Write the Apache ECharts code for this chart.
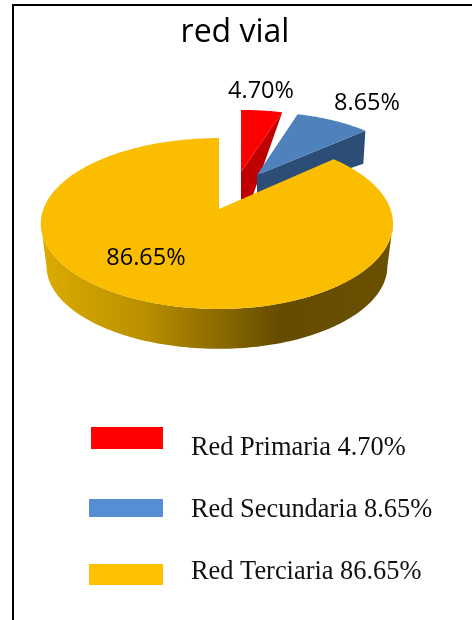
<!DOCTYPE html>
<html>
<head>
<meta charset="utf-8">
<style>html,body{margin:0;padding:0;background:#fff}#c{width:472px;height:620px}</style>
<script src="https://cdn.jsdelivr.net/npm/echarts@6/dist/echarts.min.js"></script>
</head>
<body>
<div id="c"></div>
<script>
var chartTitle = 'red vial';
var categories = ['Red Primaria', 'Red Secundaria', 'Red Terciaria'];
var values = [4.70, 8.65, 86.65];
var valueLabels = ['4.70%', '8.65%', '86.65%'];

var topColors = ['#FF0000', '#4F81BD', '#FBBD00'];
var wallColors = ['#C00000', '#2C4D75', '#6B5000'];
var swatchColors = ['#FF0000', '#558ED5', '#FFC000'];

// perspective model of the disc
var R = 173.5, RY = 83, P = 0.17;
// per-slice placement: apex, radial scale
var sliceStyle = [
  {ax: 241, ay: 172, sx: 0.95, sxL: 0.95, sy: 0.875, wall: [0, 0, 0, 57]},
  {ax: 257, ay: 175, sx: 0.935, sxL: 0.935, sy: 0.89, wall: [-2, 33, 0, 25]},
  {ax: 219, ay: 209, sx: 0.988, sxL: 1.012, sy: 1}
];
var labelPos = [[261, 91.5], [367, 103.5], [146, 258.5]];
var swatches = [[91, 427, 72, 22], [89, 499, 74, 18], [89, 564, 74, 21]];
var legendTextY = [448, 510, 572];

var total = values.reduce(function (a, b) { return a + b; }, 0);

function pt(s, deg, scale, dy) {
  var t = deg * Math.PI / 180, u = Math.sin(t), v = Math.cos(t), w = 1 + P * v;
  var k = scale || 1;
  return [s.ax + k * (u < 0 ? s.sxL : s.sx) * R * u / w, s.ay + (dy || 0) + k * s.sy * RY * (-v) / w];
}
function arc(s, a0, a1, scale, dy) {
  var out = [], n = Math.max(2, Math.ceil(Math.abs(a1 - a0)));
  for (var i = 0; i <= n; i++) out.push(pt(s, a0 + (a1 - a0) * i / n, scale, dy));
  return out;
}

function renderSlice(params, api) {
  var i = params.dataIndex, s = sliceStyle[i];
  var before = 0;
  for (var j = 0; j < i; j++) before += values[j];
  var a0 = before / total * 360, a1 = (before + api.value(0)) / total * 360;
  var children = [];
  var apex = [s.ax, s.ay];
  var rim = arc(s, a0, a1);
  var last = rim[rim.length - 1];
  if (s.wall) {
    children.push({
      type: 'polygon',
      shape: {points: [apex, last, [last[0] + s.wall[0], last[1] + s.wall[1]], [apex[0] + s.wall[2], apex[1] + s.wall[3]]]},
      style: {fill: wallColors[i]}
    });
  } else {
    var front = arc(s, 100, 260);
    var back = arc(s, 260, 100, 0.968, 43);
    children.push({
      type: 'polygon',
      shape: {points: front.concat(back)},
      style: {fill: {
        type: 'linear', x: 0, y: 0, x2: 1, y2: 0,
        colorStops: [
          {offset: 0, color: '#DCAB00'},
          {offset: 0.3, color: '#B98F00'},
          {offset: 0.68, color: '#644B00'},
          {offset: 1, color: wallColors[i]}
        ]
      }}
    });
  }
  children.push({
    type: 'polygon',
    shape: {points: [apex].concat(rim)},
    style: {fill: topColors[i]}
  });
  children.push({
    type: 'text',
    style: {
      x: labelPos[i][0], y: labelPos[i][1], text: valueLabels[i],
      align: 'center', verticalAlign: 'middle',
      font: '400 23.5px "Open Sans"', fill: '#000'
    }
  });
  return {type: 'group', children: children};
}

function renderLegend(params, api) {
  var i = params.dataIndex, b = swatches[i];
  return {type: 'group', children: [
    {type: 'rect', shape: {x: b[0], y: b[1], width: b[2], height: b[3]}, style: {fill: swatchColors[i]}},
    {type: 'text', style: {
      x: 191, y: legendTextY[i], text: categories[i] + ' ' + valueLabels[i],
      align: 'left', verticalAlign: 'middle',
      font: '26.4px "Liberation Serif"', fill: '#111'
    }}
  ]};
}

var chart = echarts.init(document.getElementById('c'), null, {renderer: 'canvas'});
chart.setOption({
  animation: false,
  backgroundColor: '#fff',
  title: {
    text: chartTitle, left: 230, top: 12, textAlign: 'center',
    textStyle: {fontFamily: 'Open Sans', fontWeight: 400, fontSize: 32, color: '#000'}
  },
  graphic: [
    {type: 'line', shape: {x1: 13, y1: 5, x2: 13, y2: 620}, style: {stroke: '#000', lineWidth: 2}},
    {type: 'line', shape: {x1: 12, y1: 5, x2: 472, y2: 5}, style: {stroke: '#000', lineWidth: 2}}
  ],
  series: [
    {type: 'custom', coordinateSystem: 'none', silent: true, renderItem: renderSlice, data: values.map(function (v) { return [v]; })},
    {type: 'custom', coordinateSystem: 'none', silent: true, renderItem: renderLegend, data: values.map(function (v) { return [v]; })}
  ]
});
</script>
</body>
</html>
